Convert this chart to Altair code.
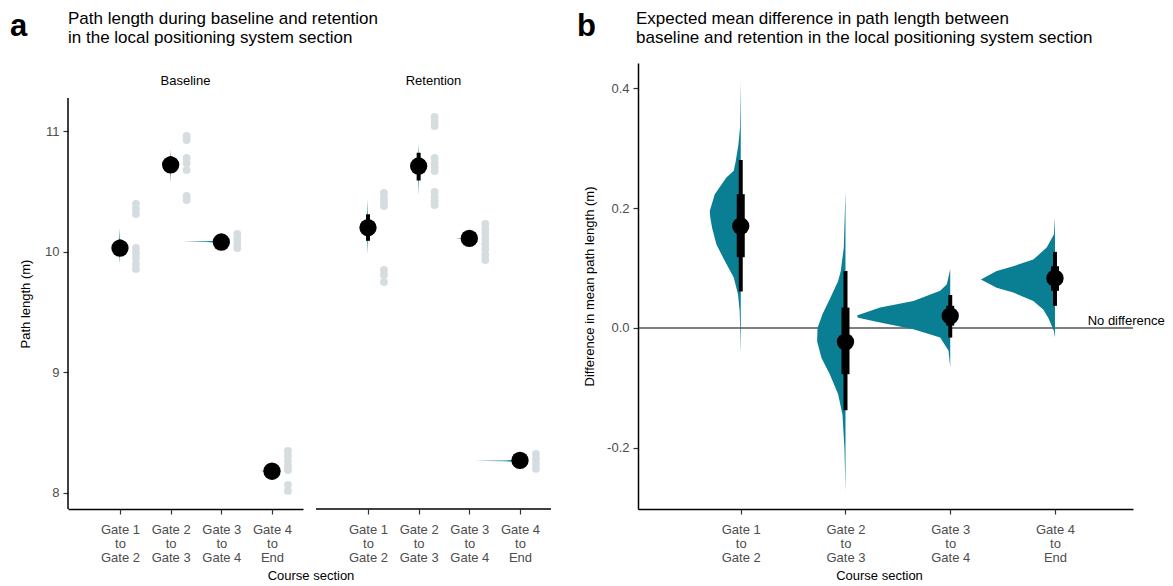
import json
import altair as alt
import pandas as pd

FONT = "Liberation Sans"
TEAL = "#0a7e92"
DOT_GRAY = "#d6dde0"
LABEL_GRAY = "#4d4d4d"

# ---------------- data ----------------
SECTION_POS = [1, 2, 3, 4]
SECTION_LABELS = [["Gate 1", "to", "Gate 2"], ["Gate 2", "to", "Gate 3"],
                  ["Gate 3", "to", "Gate 4"], ["Gate 4", "to", "End"]]
PERIODS = ["Baseline", "Retention"]

TITLE_A = ["Path length during baseline and retention",
           "in the local positioning system section"]
TITLE_B = ["Expected mean difference in path length between",
           "baseline and retention in the local positioning system section"]
LETTER_A = "a"
LETTER_B = "b"
YTITLE_A = "Path length (m)"
YTITLE_B = "Difference in mean path length (m)"
XTITLE = "Course section"
ZERO_LABEL = "No difference"

# panel a : posterior means and intervals
BASE_MEAN = [10.03, 10.72, 10.08, 8.18]
RET_MEAN = [10.20, 10.71, 10.11, 8.27]
BASE_CI95 = [[9.97, 10.10], [10.66, 10.79], [10.06, 10.10], [8.17, 8.20]]
RET_CI95 = [[10.09, 10.31], [10.59, 10.82], [10.09, 10.13], [8.25, 8.28]]
BASE_CI66 = [[10.00, 10.07], [10.69, 10.76], [10.07, 10.09], [8.18, 8.19]]
RET_CI66 = [[10.15, 10.25], [10.66, 10.76], [10.10, 10.12], [8.26, 8.27]]

# panel a : raw observations (grey dots)
BASE_DOTS = [[10.395, 10.354, 10.312, 10.031, 9.989, 9.948, 9.898, 9.857],
             [10.959, 10.926, 10.777, 10.736, 10.678, 10.462, 10.428],
             [10.147, 10.105, 10.064, 10.031],
             [8.348, 8.307, 8.266, 8.224, 8.19, 8.067, 8.017]]
RET_DOTS = [[10.486, 10.445, 10.412, 10.379, 9.848, 9.807, 9.749],
            [11.116, 11.075, 11.042, 10.777, 10.736, 10.703, 10.669, 10.495, 10.453, 10.42, 10.387],
            [10.23, 10.188, 10.147, 10.105, 10.064, 10.022, 9.973, 9.931],
            [8.324, 8.282, 8.241, 8.2]]

# panel a : posterior density outlines (value, density width)
BASE_DENS_Y = [[9.90, 10.03, 10.19], [10.57, 10.72, 10.85],
               [10.074, 10.080, 10.083, 10.086, 10.092],
               [8.170, 8.178, 8.183, 8.188, 8.196]]
BASE_DENS_W = [[0, 0.025, 0], [0, 0.025, 0],
               [0, 0.30, 0.76, 0.30, 0],
               [0, 0.10, 0.24, 0.10, 0]]
RET_DENS_Y = [[9.98, 10.20, 10.43], [10.46, 10.71, 10.90],
              [10.098, 10.105, 10.108, 10.111, 10.118],
              [8.256, 8.263, 8.266, 8.269, 8.276]]
RET_DENS_W = [[0, 0.025, 0], [0, 0.025, 0],
              [0, 0.12, 0.28, 0.12, 0],
              [0, 0.30, 0.89, 0.30, 0]]

# panel b : differences
DIFF_MEAN = [0.170, -0.023, 0.020, 0.083]
DIFF_CI95 = [[0.061, 0.280], [-0.137, 0.095], [-0.016, 0.055], [0.037, 0.127]]
DIFF_CI66 = [[0.118, 0.223], [-0.077, 0.034], [0.004, 0.037], [0.062, 0.103]]
DIFF_DENS_Y = [
    [0.412, 0.334, 0.306, 0.278, 0.262, 0.251, 0.223, 0.195, 0.184, 0.167, 0.139, 0.112, 0.084, 0.056, 0.028, -0.043],
    [0.228, 0.134, 0.095, 0.078, 0.051, 0.023, 0.0, -0.022, -0.05, -0.077, -0.11, -0.144, -0.2, -0.272],
    [0.098, 0.073, 0.062, 0.045, 0.034, 0.021, 0.017, 0.009, -0.002, -0.016, -0.038, -0.066],
    [0.184, 0.156, 0.134, 0.114, 0.103, 0.095, 0.081, 0.067, 0.059, 0.045, 0.031, 0.017, -0.005, -0.016],
]
DIFF_DENS_W = [
    [0, 0.007, 0.022, 0.048, 0.067, 0.137, 0.248, 0.296, 0.291, 0.274, 0.232, 0.153, 0.067, 0.026, 0.010, 0],
    [0, 0.016, 0.045, 0.071, 0.143, 0.220, 0.267, 0.271, 0.229, 0.150, 0.071, 0.029, 0.010, 0],
    [0, 0.032, 0.096, 0.351, 0.669, 0.891, 0.879, 0.669, 0.351, 0.096, 0.016, 0],
    [0, 0.010, 0.079, 0.207, 0.398, 0.557, 0.707, 0.557, 0.398, 0.207, 0.112, 0.064, 0.010, 0],
]
ZERO_LABEL_POS = 4.68
Y_TICKS_A = [8, 9, 10, 11]
Y_TICKS_B = [-0.2, 0.0, 0.2, 0.4]
DOT_SHIFT = 0.315

# ---------------- scales / axes ----------------
XA_RANGE = [-0.026, 4.612]          # visible x range of each facet in panel a
XA = alt.Scale(domain=XA_RANGE, nice=False, zero=False)
XA_WIDE = alt.Scale(domain=[XA_RANGE[0], 6.0724], nice=False, zero=False)  # right facet + gutter
YA = alt.Scale(domain=[7.867, 11.564], nice=False, zero=False)
YA_LINE = [7.867, 11.273]
XB = alt.Scale(domain=[0.019, 4.745], nice=False, zero=False)
YB = alt.Scale(domain=[-0.3017, 0.4417], nice=False, zero=False)

label_expr = " : ".join(
    f"datum.value == {p} ? {json.dumps(lab)}" for p, lab in zip(SECTION_POS, SECTION_LABELS)
) + " : ''"

AX_COMMON = dict(grid=False, labelFont=FONT, titleFont=FONT, labelFontSize=13,
                 labelColor=LABEL_GRAY, titleFontSize=13, titleFontWeight="normal",
                 titleColor="black", tickColor="#333333", tickSize=5, tickWidth=1.2,
                 domainColor="black", domainWidth=1.5)


def x_axis(title=None, title_x=None, domain=True):
    kw = dict(AX_COMMON)
    kw.update(values=SECTION_POS, labelExpr=label_expr, labelAlign="center",
              labelBaseline="top", labelLineHeight=14.3, labelPadding=9, domain=domain)
    if title is not None:
        kw.update(title=title, titlePadding=5)
        if title_x is not None:
            kw.update(titleX=title_x)
    else:
        kw.update(title=None)
    return alt.Axis(**kw)


def text_layer(text, x, y, size, weight="normal", align="left", baseline="alphabetic", lh=None):
    df = pd.DataFrame({"t": [text]})
    kw = dict(font=FONT, fontSize=size, fontWeight=weight, align=align,
              baseline=baseline, color="black")
    if lh is not None:
        kw["lineHeight"] = lh
    return alt.Chart(df).mark_text(**kw).encode(
        x=alt.value(x), y=alt.value(y), text="t:N")


def density_layers(dens_y, dens_w, xs, ys, xax, yax):
    out = []
    for p, yv, wv in zip(SECTION_POS, dens_y, dens_w):
        df = pd.DataFrame({"y": yv, "w": wv, "pos": [p] * len(yv)})
        out.append(
            alt.Chart(df).transform_calculate(xl="datum.pos - datum.w").mark_area(
                orient="horizontal", color=TEAL, opacity=1).encode(
                y=alt.Y("y:Q", scale=ys, axis=yax),
                x=alt.X("xl:Q", scale=xs, axis=xax, stack=None),
                x2="pos:Q"))
    return out


def panel_a(period, means, ci95, ci66, dots, dens_y, dens_w, first):
    xs = XA if first else XA_WIDE
    pts = pd.DataFrame({"pos": SECTION_POS, "m": means,
                        "lo95": [c[0] for c in ci95], "hi95": [c[1] for c in ci95],
                        "lo66": [c[0] for c in ci66], "hi66": [c[1] for c in ci66]})
    dd = pd.DataFrame([{"pos": p, "v": v} for p, vs in zip(SECTION_POS, dots) for v in vs])

    if first:
        yax = alt.Axis(**dict(AX_COMMON, values=Y_TICKS_A, domain=False, title=YTITLE_A,
                              labelPadding=4, titlePadding=12, titleY=240.5))
        xax = x_axis(XTITLE, 242.5, domain=True)
    else:
        yax = None
        xax = x_axis(None, None, domain=False)

    dens_l = density_layers(dens_y, dens_w, xs, YA, xax, yax)
    dots_l = alt.Chart(dd).transform_calculate(xd=f"datum.pos + {DOT_SHIFT}").mark_circle(
        size=62, color=DOT_GRAY, opacity=1).encode(
        x=alt.X("xd:Q", scale=xs, axis=xax), y=alt.Y("v:Q", scale=YA, axis=yax))
    thin = alt.Chart(pts).mark_rule(color="black", strokeWidth=4).encode(
        x=alt.X("pos:Q", scale=xs, axis=xax), y=alt.Y("lo95:Q", scale=YA, axis=yax), y2="hi95:Q")
    thick = alt.Chart(pts).mark_rule(color="black", strokeWidth=8).encode(
        x=alt.X("pos:Q", scale=xs, axis=xax), y=alt.Y("lo66:Q", scale=YA, axis=yax), y2="hi66:Q")
    pt = alt.Chart(pts).mark_circle(size=300, color="black", opacity=1).encode(
        x=alt.X("pos:Q", scale=xs, axis=xax), y=alt.Y("m:Q", scale=YA, axis=yax))
    strip = text_layer(period, 117.5, 22, 13, align="center")

    layers = [dots_l] + dens_l + [thin, thick, pt, strip]
    if first:
        axline = alt.Chart(pd.DataFrame({"y0": [YA_LINE[0]], "y1": [YA_LINE[1]]})).mark_rule(
            color="black", strokeWidth=1.5).encode(
            x=alt.value(0), y=alt.Y("y0:Q", scale=YA, axis=yax), y2="y1:Q")
        layers.insert(0, axline)
        layers.append(text_layer(LETTER_A, -58, -27, 31, weight="bold"))
        layers.append(text_layer(TITLE_A, 0, -39, 17, lh=18.5))
        width = 235
    else:
        xline = alt.Chart(pd.DataFrame({"x0": [XA_RANGE[0]], "x1": [XA_RANGE[1]],
                                        "y0": [YA_LINE[0]]})).mark_rule(
            color="black", strokeWidth=1.5).encode(
            x=alt.X("x0:Q", scale=xs, axis=xax), x2="x1:Q",
            y=alt.Y("y0:Q", scale=YA, axis=yax))
        layers.insert(0, xline)
        width = 309
    return alt.layer(*layers).properties(width=width, height=446)


left = panel_a(PERIODS[0], BASE_MEAN, BASE_CI95, BASE_CI66, BASE_DOTS, BASE_DENS_Y, BASE_DENS_W, True)
right = panel_a(PERIODS[1], RET_MEAN, RET_CI95, RET_CI66, RET_DOTS, RET_DENS_Y, RET_DENS_W, False)

# ---------------- panel b ----------------
bpts = pd.DataFrame({"pos": SECTION_POS, "m": DIFF_MEAN,
                     "lo95": [c[0] for c in DIFF_CI95], "hi95": [c[1] for c in DIFF_CI95],
                     "lo66": [c[0] for c in DIFF_CI66], "hi66": [c[1] for c in DIFF_CI66]})

ybax = alt.Axis(**dict(AX_COMMON, values=Y_TICKS_B, title=YTITLE_B, labelPadding=4, titlePadding=10,
                       labelExpr="replace(format(datum.value, '.1f'), '\u2212', '-')"))
xbax = x_axis(XTITLE, 241)

zero = alt.Chart(pd.DataFrame({"z": [0.0]})).mark_rule(color="black", strokeWidth=1.2).encode(
    y=alt.Y("z:Q", scale=YB, axis=ybax))
zlab = alt.Chart(pd.DataFrame({"x": [ZERO_LABEL_POS], "z": [0.0], "t": [ZERO_LABEL]})).mark_text(
    font=FONT, fontSize=13, align="center", baseline="alphabetic", dy=-3, color="black").encode(
    x=alt.X("x:Q", scale=XB, axis=xbax), y=alt.Y("z:Q", scale=YB, axis=ybax), text="t:N")
bdens_l = density_layers(DIFF_DENS_Y, DIFF_DENS_W, XB, YB, xbax, ybax)
bthin = alt.Chart(bpts).mark_rule(color="black", strokeWidth=4).encode(
    x=alt.X("pos:Q", scale=XB, axis=xbax), y=alt.Y("lo95:Q", scale=YB, axis=ybax), y2="hi95:Q")
bthick = alt.Chart(bpts).mark_rule(color="black", strokeWidth=8).encode(
    x=alt.X("pos:Q", scale=XB, axis=xbax), y=alt.Y("lo66:Q", scale=YB, axis=ybax), y2="hi66:Q")
bpt = alt.Chart(bpts).mark_circle(size=300, color="black", opacity=1).encode(
    x=alt.X("pos:Q", scale=XB, axis=xbax), y=alt.Y("m:Q", scale=YB, axis=ybax))

panel_b = alt.layer(
    zero, zlab, *bdens_l, bthin, bthick, bpt,
    text_layer(LETTER_B, -61, -27, 31, weight="bold"),
    text_layer(TITLE_B, -2, -39, 17, lh=18.5),
).properties(width=495, height=446)

chart = alt.hconcat(left, right, panel_b, spacing=13, bounds="flush").configure(
    font=FONT, padding={"left": 2, "top": 2, "right": 0, "bottom": 0}
).configure_view(stroke=None)

chart.save("out.html", embed_options={"renderer": "svg", "actions": False})
